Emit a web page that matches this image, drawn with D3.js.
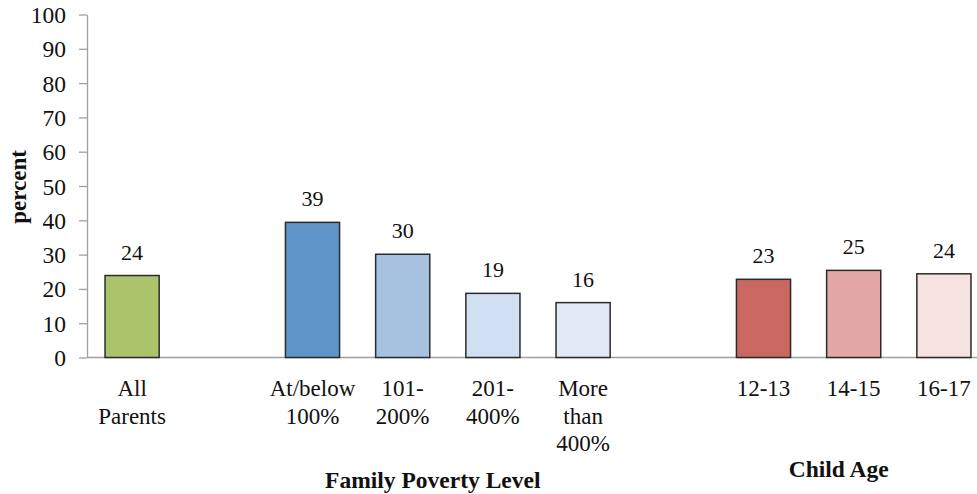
<!DOCTYPE html>
<html>
<head>
<meta charset="utf-8">
<script src="https://cdn.jsdelivr.net/npm/d3@7"></script>
<style>
  body { margin: 0; background: #fff; }
  text { font-family: "Liberation Serif", "Times New Roman", serif; fill: #111; }
</style>
</head>
<body>
<div id="graph"></div>
<script>
// slots along the x axis, gaps are empty slots
var slots = ["all", "gap1", "pov1", "pov2", "pov3", "pov4", "gap2", "age1", "age2", "age3"];
var categories = ["all", "pov1", "pov2", "pov3", "pov4", "age1", "age2", "age3"];
var tickLabels = [["All", "Parents"], ["At/below", "100%"], ["101-", "200%"], ["201-", "400%"],
                  ["More", "than", "400%"], ["12-13"], ["14-15"], ["16-17"]];
var values = [23.9, 39.4, 30.1, 18.7, 16.0, 22.8, 25.4, 24.4];
var valueLabels = ["24", "39", "30", "19", "16", "23", "25", "24"];
var colors = ["#abc46c", "#6095c9", "#a7c1e1", "#d0e0f2", "#e2e9f4", "#cb6761", "#e3a8a6", "#f5e2e1"];
var groups = [["Family Poverty Level", ["pov1", "pov4"]], ["Child Age", ["age1", "age3"]]];
var yTicks = [0, 10, 20, 30, 40, 50, 60, 70, 80, 90, 100];

var W = 977, H = 494;
var mLeft = 87, mTop = 14.5, mBottom = 357.5;

var svg = d3.select("#graph")
  .append('svg')
  .attr('width', W)
  .attr('height', H);

var x = d3.scaleBand()
  .domain(slots)
  .range([mLeft, 989])
  .paddingInner(0.4)
  .paddingOuter(0.2);

var y = d3.scaleLinear()
  .domain([0, 100])
  .range([mBottom, mTop]);

// y axis
var yAxis = svg.append('g')
  .attr('transform', 'translate(' + mLeft + ',0)')
  .call(d3.axisLeft(y).tickValues(yTicks).tickSize(8).tickPadding(13).tickSizeOuter(0));
yAxis.select('.domain').attr('stroke', '#a0a0a0').attr('stroke-width', 1.3);
yAxis.selectAll('.tick line').attr('stroke', '#a0a0a0').attr('stroke-width', 1.3);
yAxis.selectAll('.tick text')
  .style('font-family', '"Liberation Serif", serif')
  .style('font-size', '23.5px')
  .attr('fill', '#111')
  .attr('dy', '0.34em');

// x baseline
svg.append('line')
  .attr('x1', mLeft).attr('x2', W)
  .attr('y1', y(0)).attr('y2', y(0))
  .attr('stroke', '#a0a0a0')
  .attr('stroke-width', 1.3);

// bars
svg.selectAll('rect.bar')
  .data(values)
  .enter().append('rect')
  .attr('class', 'bar')
  .attr('x', (d, i) => x(categories[i]))
  .attr('width', x.bandwidth())
  .attr('y', d => y(d))
  .attr('height', d => y(0) - y(d))
  .attr('fill', (d, i) => colors[i])
  .attr('stroke', '#2b2b2b')
  .attr('stroke-width', 1.5);

// value labels
svg.selectAll('text.val')
  .data(values)
  .enter().append('text')
  .attr('class', 'val')
  .attr('x', (d, i) => x(categories[i]) + x.bandwidth() / 2)
  .attr('y', d => y(d) - 16)
  .attr('text-anchor', 'middle')
  .style('font-size', '22px')
  .text((d, i) => valueLabels[i]);

// category labels (wrapped)
var tl = svg.selectAll('text.cat')
  .data(tickLabels)
  .enter().append('text')
  .attr('class', 'cat')
  .attr('text-anchor', 'middle')
  .style('font-size', '23px')
  .attr('x', (d, i) => x(categories[i]) + x.bandwidth() / 2)
  .attr('y', 396);
tl.selectAll('tspan')
  .data(d => d)
  .enter().append('tspan')
  .attr('x', function() { return this.parentNode.getAttribute('x'); })
  .attr('dy', (d, j) => j === 0 ? 0 : 27.5)
  .text(d => d);

// group labels
svg.selectAll('text.grp')
  .data(groups)
  .enter().append('text')
  .attr('class', 'grp')
  .attr('text-anchor', 'middle')
  .style('font-size', '23.5px')
  .style('font-weight', 'bold')
  .attr('x', d => (x(d[1][0]) + x(d[1][1]) + x.bandwidth()) / 2 - 15)
  .attr('y', (d, i) => i === 0 ? 488 : 477)
  .text(d => d[0]);

// y title
svg.append('text')
  .attr('transform', 'translate(26,' + (y(50) + 1) + ') rotate(-90)')
  .attr('text-anchor', 'middle')
  .style('font-size', '23px')
  .style('font-weight', 'bold')
  .text('percent');
</script>
</body>
</html>
